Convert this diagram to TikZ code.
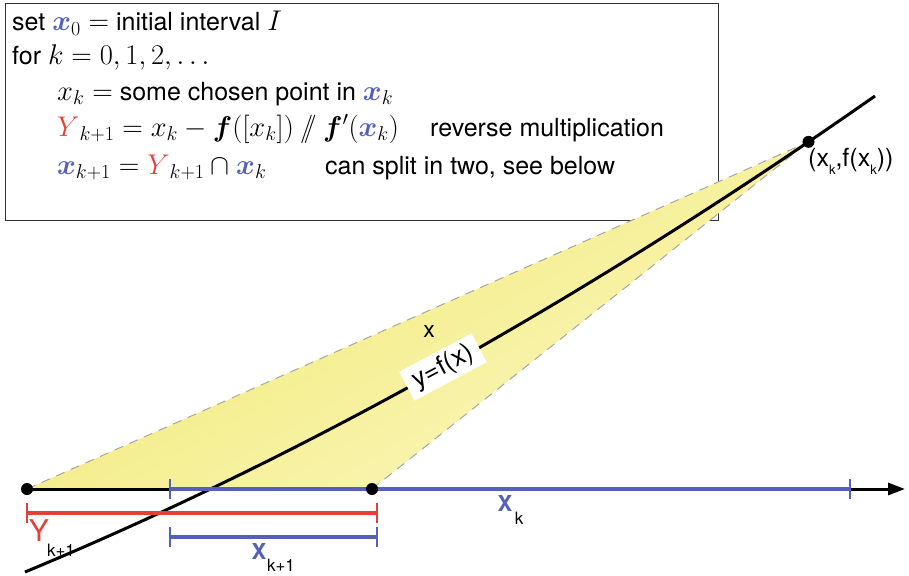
\RequirePackage{fix-cm}
\documentclass[tikz,border=0pt]{standalone}
\usepackage{fontspec}
\setmainfont{TeX Gyre Heros}
\usepackage{bm}
\DeclareMathSizes{25}{28.5}{20}{14}
\usetikzlibrary{arrows.meta}
\definecolor{ivblue}{RGB}{84,96,186}
\definecolor{ivred}{RGB}{232,62,58}
\definecolor{ylwtop}{RGB}{240,232,110}
\definecolor{ylwbot}{RGB}{251,247,192}
\newcommand{\bx}{\bm{x}}
\newcommand{\rdiv}{\mathbin{/\!\!/}}
\tikzset{
  txt/.style={anchor=base west, inner sep=0pt, font=\fontsize{25}{29}\selectfont},
  lbl/.style={inner sep=0pt, font=\fontsize{23}{27}\selectfont},
  thick3/.style={line width=3pt},
  dot/.style={circle, fill=black, inner sep=0pt, minimum size=12pt},
  tickmark/.style={line width=2pt},
  edge/.style={gray!70, dashed, dash pattern=on 9pt off 7pt, line width=1pt}
}
\begin{document}
\begin{tikzpicture}[x=1pt,y=-1pt]
\useasboundingbox (0,0) rectangle (909,575);
% text box
\node[draw=black!80, line width=1pt, minimum width=713pt, minimum height=217pt, anchor=north west, inner sep=0pt] (box) at (5,3) {};
\node[txt] (l1) at (12,31) {set $\textcolor{ivblue}{\bx}_0 =$ initial interval $I$};
\node[txt] (l2) at (12,65) {for $k=0,1,2,\ldots$};
\node[txt] (l3) at (57,100) {$x_k =$ some chosen point in $\textcolor{ivblue}{\bx}_k$};
\node[txt] (l4) at (57,136) {$\textcolor{ivred}{Y}_{k+1} = x_k - \bm{f}([x_k]) \rdiv \bm{f}'(\textcolor{ivblue}{\bx}_k)$};
\node[txt] (l4b) at (430,136) {reverse multiplication};
\node[txt] (l5) at (57,174) {$\textcolor{ivblue}{\bx}_{k+1} = \textcolor{ivred}{Y}_{k+1} \cap \textcolor{ivblue}{\bx}_k$};
\node[txt] (l5b) at (325,174) {can split in two, see below};
% points
\coordinate (a) at (27,489);
\coordinate (b) at (372,489);
\coordinate (c0) at (25,572);
\coordinate (c1) at (875,96);
\path (c0) .. controls (303.3,456.5) and (586.7,297.8) .. (c1) coordinate[pos=0.923] (pk);
% yellow wedge
\shade[top color=ylwtop, bottom color=ylwbot, shading angle=30] (a) -- (pk) -- (b) -- cycle;
\draw[edge] (a) -- (pk);
\draw[edge] (b) -- (pk);
% curve
\draw[thick3] (c0) .. controls (303.3,456.5) and (586.7,297.8) .. (c1);
% axis
\coordinate (t1) at (170,489);
\coordinate (t2) at (850,489);
\coordinate (e) at (905,489);
\draw[thick3] (a) -- (t1);
\draw[ivblue, line width=3.5pt] (t1) -- (t2);
\draw[thick3, -{Triangle[length=17pt,width=12pt]}] (t2) -- (e);
\draw[ivblue, tickmark] (170,479) -- (170,499);
\draw[ivblue, tickmark] (850,479) -- (850,499);
% Y_{k+1}
\coordinate (ya) at (27,513);
\coordinate (yb) at (377,513);
\draw[ivred, line width=3.5pt] (ya) -- (yb);
\draw[ivred, tickmark] (27,503) -- (27,523);
\draw[ivred, tickmark] (377,503) -- (377,523);
% x_{k+1}
\coordinate (xa) at (170,537);
\coordinate (xb) at (377,537);
\draw[ivblue, line width=3.5pt] (xa) -- (xb);
\draw[ivblue, tickmark] (170,527) -- (170,547);
\draw[ivblue, tickmark] (377,527) -- (377,547);
% dots
\node[dot] (da) at (a) {};
\node[dot] (db) at (b) {};
\node[dot] (dk) at (pk) {};
% labels
\node[lbl] (xl) at (429,331) {x};
\node[lbl, fill=white, rotate=28, inner xsep=8pt, inner ysep=4pt, font=\fontsize{26}{30}\selectfont] (fl) at (443,367) {y=f(x)};
\node[lbl, anchor=west, font=\fontsize{25}{29}\selectfont] (pkl) at (808,161) {(x\raisebox{-8pt}{\fontsize{13}{13}\selectfont k},f(x\raisebox{-8pt}{\fontsize{13}{13}\selectfont k}))};
\node[inner sep=0pt, text=ivred, font=\fontsize{30}{30}\selectfont] (yl) at (39,531) {Y};
\node[inner sep=0pt, font=\fontsize{17}{17}\selectfont] (ysub) at (61,550) {k+1};
\node[inner sep=0pt, text=ivblue, font=\bfseries\fontsize{22}{22}\selectfont] (xkl) at (259,551) {X};
\node[inner sep=0pt, font=\fontsize{17}{17}\selectfont] (xksub) at (281,565) {k+1};
\node[inner sep=0pt, text=ivblue, font=\bfseries\fontsize{22}{22}\selectfont] (xkk) at (505,503) {X};
\node[inner sep=0pt, font=\fontsize{17}{17}\selectfont] (xkks) at (519,518) {k};
\end{tikzpicture}
\end{document}
